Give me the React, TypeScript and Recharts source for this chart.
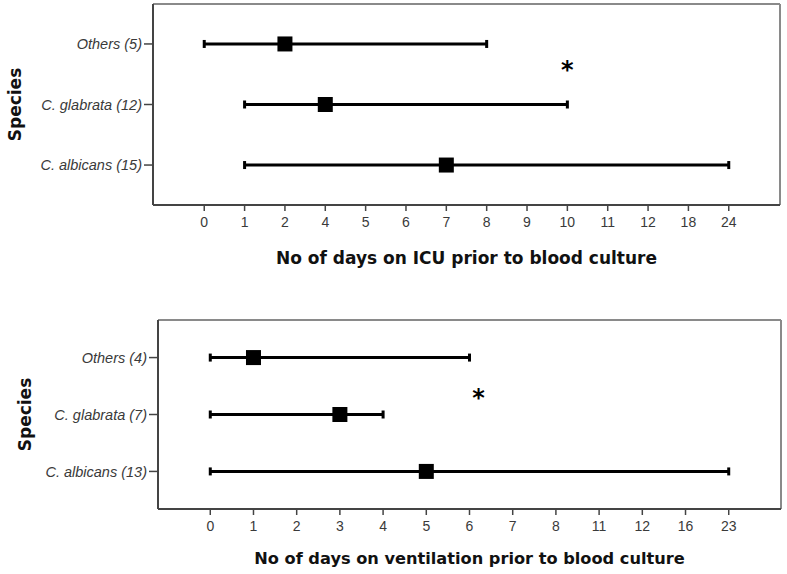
import { ScatterChart, Scatter, XAxis, YAxis, ReferenceLine } from 'recharts'

// ICU panel
const ICU_TICKS = [0, 1, 2, 4, 5, 6, 7, 8, 9, 10, 11, 12, 18, 24]
const ICU_SPECIES = ['Others (5)', 'C. glabrata (12)', 'C. albicans (15)']
const ICU_MIN = [0, 1, 1]
const ICU_MEDIAN = [2, 4, 7]
const ICU_MAX = [8, 10, 24]
const ICU_STAR = { x: 9, y: 1.65 }

// ventilation panel
const VENT_TICKS = [0, 1, 2, 3, 4, 5, 6, 7, 8, 11, 12, 16, 23]
const VENT_SPECIES = ['Others (4)', 'C. glabrata (7)', 'C. albicans (13)']
const VENT_MIN = [0, 0, 0]
const VENT_MEDIAN = [1, 3, 5]
const VENT_MAX = [6, 4, 23]
const VENT_STAR = { x: 6.21, y: 1.37 }

const TICK_FONT = "'Liberation Sans', Arial, sans-serif"
const TITLE_FONT = "'DejaVu Sans', Verdana, sans-serif"
const Y_DOMAIN = [-0.66, 2.66]

const Cap = (p: any) => <rect x={p.cx - 1.5} y={p.cy - 4} width={3} height={8} fill="#000" />
const Square = (p: any) => <rect x={p.cx - 7.5} y={p.cy - 7.5} width={15} height={15} fill="#000" />
const Star = (p: any) => (
  <text x={p.cx} y={p.cy + 13} textAnchor="middle" fontFamily={TITLE_FONT} fontWeight="bold" fontSize={24} fill="#000">
    *
  </text>
)

type PanelProps = {
  ticks: number[]
  species: string[]
  mins: number[]
  medians: number[]
  maxs: number[]
  star: { x: number; y: number }
  title: string
  titleSize: number
  height: number
  top: number
  left: number
  right: number
  axisHeight: number
  xPad: number
  titleDy: number
  speciesX: number
}

function Panel(props: PanelProps) {
  const { ticks, species, mins, medians, maxs, star, title } = props
  const idx = (day: number) => ticks.indexOf(day)
  const row = (i: number) => species.length - 1 - i
  const xDomain = [-props.xPad, ticks.length - 1 + props.xPad]
  const medianData = species.map((_, i) => ({ x: idx(medians[i]), y: row(i) }))

  return (
    <ScatterChart
      width={787}
      height={props.height}
      margin={{ top: props.top, right: props.right, bottom: 0, left: 0 }}
    >
      <XAxis
        type="number"
        dataKey="x"
        domain={xDomain}
        allowDataOverflow
        ticks={ticks.map((_, i) => i)}
        interval={0}
        tickFormatter={(v) => String(ticks[v])}
        tick={{ fill: '#3a3a3a', fontSize: 14, fontFamily: TICK_FONT }}
        tickSize={6}
        tickMargin={6}
        tickLine={{ stroke: '#444', strokeWidth: 1.5 }}
        axisLine={{ stroke: '#444', strokeWidth: 2 }}
        height={props.axisHeight}
        label={{
          content: ({ viewBox }: any) => (
            <text
              x={viewBox.x + viewBox.width / 2}
              y={viewBox.y + props.titleDy}
              textAnchor="middle"
              dominantBaseline="central"
              fontFamily={TITLE_FONT}
              fontWeight="bold"
              fontSize={props.titleSize}
              fill="#111"
            >
              {title}
            </text>
          ),
        }}
      />
      <YAxis
        type="number"
        dataKey="y"
        domain={Y_DOMAIN}
        allowDataOverflow
        ticks={[0, 1, 2]}
        interval={0}
        tickFormatter={(v) => species[species.length - 1 - v]}
        tick={{ fill: '#3a3a3a', fontSize: 14.5, fontFamily: TICK_FONT, fontStyle: 'italic' }}
        tickSize={9}
        tickMargin={2}
        tickLine={{ stroke: '#444', strokeWidth: 1.5 }}
        axisLine={{ stroke: '#444', strokeWidth: 2 }}
        width={props.left}
        label={{
          content: ({ viewBox }: any) => {
            const cy = viewBox.y + viewBox.height / 2
            return (
              <text
                x={props.speciesX}
                y={cy}
                transform={`rotate(-90 ${props.speciesX} ${cy})`}
                textAnchor="middle"
                dominantBaseline="central"
                fontFamily={TITLE_FONT}
                fontWeight="bold"
                fontSize={17}
                fill="#111"
              >
                Species
              </text>
            )
          },
        }}
      />
      <ReferenceLine y={Y_DOMAIN[1]} stroke="#8a8a8a" strokeWidth={2} />
      <ReferenceLine x={xDomain[1]} stroke="#8a8a8a" strokeWidth={2} />
      {species.map((s, i) => (
        <Scatter
          key={s}
          data={[
            { x: idx(mins[i]), y: row(i) },
            { x: idx(maxs[i]), y: row(i) },
          ]}
          line={{ stroke: '#000', strokeWidth: 3 }}
          lineType="joint"
          shape={Cap}
          isAnimationActive={false}
        />
      ))}
      <Scatter data={medianData} shape={Square} isAnimationActive={false} />
      <Scatter data={[star]} shape={Star} isAnimationActive={false} />
    </ScatterChart>
  )
}

export default function App() {
  return (
    <div style={{ position: 'absolute', left: 0, top: 0, width: 787, height: 574, background: '#fff' }}>
      <div style={{ position: 'absolute', left: 0, top: 0 }}>
        <Panel
          ticks={ICU_TICKS}
          species={ICU_SPECIES}
          mins={ICU_MIN}
          medians={ICU_MEDIAN}
          maxs={ICU_MAX}
          star={ICU_STAR}
          title="No of days on ICU prior to blood culture"
          titleSize={17}
          height={290}
          top={4}
          left={153}
          right={7}
          axisHeight={85}
          xPad={1.27}
          titleDy={53}
          speciesX={15}
        />
      </div>
      <div style={{ position: 'absolute', left: 0, top: 290 }}>
        <Panel
          ticks={VENT_TICKS}
          species={VENT_SPECIES}
          mins={VENT_MIN}
          medians={VENT_MEDIAN}
          maxs={VENT_MAX}
          star={VENT_STAR}
          title="No of days on ventilation prior to blood culture"
          titleSize={16.2}
          height={284}
          top={30}
          left={158}
          right={6}
          axisHeight={65}
          xPad={1.21}
          titleDy={49}
          speciesX={25}
        />
      </div>
    </div>
  )
}
